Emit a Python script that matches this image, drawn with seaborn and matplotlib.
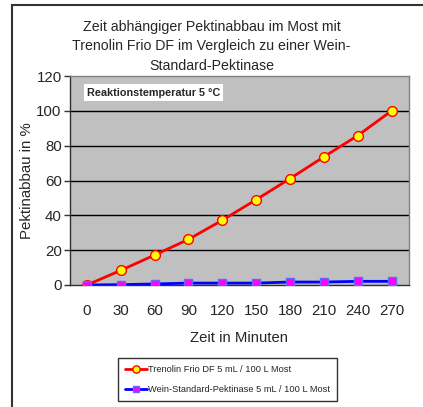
import pandas as pd
import matplotlib.pyplot as plt
import seaborn as sns
from matplotlib.patches import Rectangle

# Data
minutes = ['0', '30', '60', '90', '120', '150', '180', '210', '240', '270']
trenolin = [0, 8.4, 17.2, 26.2, 37.2, 49.0, 61.1, 73.6, 85.8, 100.0]
standard = [0, 0.2, 0.6, 1.1, 1.1, 1.1, 1.7, 1.7, 2.1, 2.1]

label_a = 'Trenolin Frio DF 5 mL / 100 L Most'
label_b = 'Wein-Standard-Pektinase 5 mL / 100 L Most'

df = pd.DataFrame({'Minuten': minutes, 'Trenolin': trenolin, 'Standard': standard})

sns.set_style('white')
plt.rcParams['font.family'] = ['Liberation Sans', 'DejaVu Sans']

W, H = 423, 407
fig = plt.figure(figsize=(W / 100, H / 100), dpi=100)
ax = fig.add_axes([70 / W, 1 - 285 / H, 338.5 / W, 209 / H])

sns.lineplot(data=df, x='Minuten', y='Trenolin', ax=ax, color='#FF0000', lw=2,
             marker='o', markersize=7, markerfacecolor='#FFFF00',
             markeredgecolor='#FF0000', markeredgewidth=1, label=label_a, zorder=3)
sns.lineplot(data=df, x='Minuten', y='Standard', ax=ax, color='#0000FF', lw=2,
             marker='s', markersize=5.5, markerfacecolor='#FF00FF',
             markeredgecolor='#6666FF', markeredgewidth=1, label=label_b, zorder=4)

ax.set_facecolor('#C0C0C0')
ax.set_xlim(-0.5, len(minutes) - 0.5)
ax.set_ylim(0, 120)
ax.set_yticks(range(0, 121, 20))
for v in range(20, 101, 20):
    ax.axhline(v, color='black', lw=1, zorder=1)

for side in ['top', 'right']:
    ax.spines[side].set_color('#808080')
    ax.spines[side].set_linewidth(1)
for side in ['left', 'bottom']:
    ax.spines[side].set_color('#303030')
    ax.spines[side].set_linewidth(1)

ax.tick_params(axis='y', length=4, width=1, color='#303030', labelsize=10.8, pad=2, left=True)
ax.tick_params(axis='x', length=0, labelsize=10.8, pad=14)
ax.set_xlabel('Zeit in Minuten', fontsize=10.7, labelpad=9)
ax.set_ylabel('Pektinabbau in %', fontsize=10.8, labelpad=2)

ax.text(0.05, 0.921, 'Reaktionstemperatur 5 °C', transform=ax.transAxes,
        fontsize=7.8, fontweight='bold', va='center', ha='left',
        bbox=dict(boxstyle='square,pad=0.3', fc='white', ec='none'))

fig.text(0.5, 1 - 46 / H,
         'Zeit abhängiger Pektinabbau im Most mit\n'
         'Trenolin Frio DF im Vergleich zu einer Wein-\n'
         'Standard-Pektinase',
         ha='center', va='center', fontsize=10.2, linespacing=1.5)

leg = ax.legend(loc='upper left', bbox_to_anchor=(118 / W, 1 - 358 / H),
                bbox_transform=fig.transFigure, fontsize=6.7, frameon=True,
                fancybox=False, edgecolor='black', handlelength=2.4,
                handletextpad=0.1, borderpad=0.75, labelspacing=1.2,
                borderaxespad=0, markerscale=0.75)
leg.get_frame().set_linewidth(1)

fig.patches.append(Rectangle((12 / W, -0.05), 1.2, 1 - 5 / H + 0.05,
                             transform=fig.transFigure, fill=False,
                             ec='#333333', lw=1.5))

fig.savefig('out.png', dpi=100)
